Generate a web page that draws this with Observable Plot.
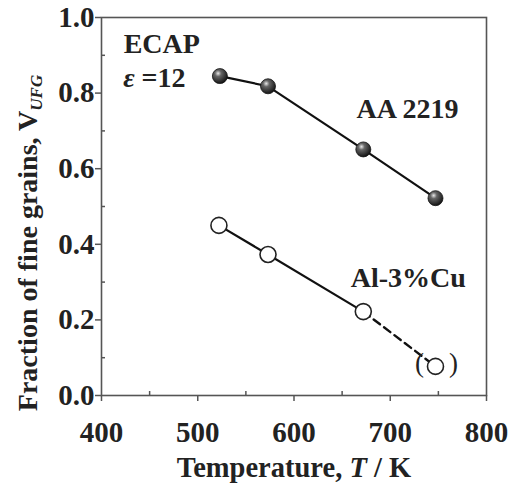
<!DOCTYPE html>
<html>
<head>
<meta charset="utf-8">
<script src="https://cdn.jsdelivr.net/npm/d3@7"></script>
<script src="https://cdn.jsdelivr.net/npm/@observablehq/plot@0.6"></script>
<style>
  html, body { margin: 0; padding: 0; background: #fff; }
</style>
</head>
<body>
<div id="chart"></div>
<script>
// Data
const tempAA = [523, 573, 672, 747];
const vAA = [0.845, 0.818, 0.651, 0.522];
const tempCu = [522, 573, 672, 747];
const vCu = [0.450, 0.373, 0.222, 0.077];

const xMajor = [400, 500, 600, 700, 800];
const xMinor = [450, 550, 650, 750];
const yMajor = [0, 0.2, 0.4, 0.6, 0.8, 1.0];
const yMinor = [0.1, 0.3, 0.5, 0.7, 0.9];

const labelT = [423, 665, 659];
const labelV = [0.905, 0.733, 0.286];
const labelText = ["ECAP", "AA 2219", "Al-3%Cu"];
const epsT = 423, epsV = 0.815;

const W = 517, H = 489;
const mL = 101, mR = 31, mT = 17, mB = 94;
const innerW = W - mL - mR, innerH = H - mT - mB;
const FONT = "Liberation Serif, Times New Roman, serif";

const AA = tempAA.map((t, i) => ({t, v: vAA[i]}));
const Cu = tempCu.map((t, i) => ({t, v: vCu[i]}));
const labels = labelT.map((t, i) => ({t, v: labelV[i], text: labelText[i]}));
const CuSolid = Cu.slice(0, 3);
const CuDash = Cu.slice(2);
const CuLast = Cu.slice(3);

const plot = Plot.plot({
  width: W, height: H,
  marginLeft: mL, marginRight: mR, marginTop: mT, marginBottom: mB,
  style: {fontFamily: FONT, fontWeight: "bold", background: "#fff", overflow: "visible"},
  x: {domain: [400, 800]},
  y: {domain: [0, 1]},
  marks: [
    Plot.frame({stroke: "#555", strokeWidth: 1.6}),
    Plot.tickX(xMajor, {x: d => d, insetTop: innerH - 6, dy: 6, stroke: "#555", strokeWidth: 1.5}),
    Plot.tickX(xMinor, {x: d => d, insetTop: innerH - 4, stroke: "#555", strokeWidth: 1.5}),
    Plot.tickY(yMajor, {y: d => d, insetRight: innerW - 6, dx: -6, stroke: "#555", strokeWidth: 1.5}),
    Plot.tickY(yMinor, {y: d => d, insetRight: innerW - 4, stroke: "#555", strokeWidth: 1.5}),
    Plot.axisX(xMajor, {tickSize: 0, tickPadding: 26, fontSize: 29, fontWeight: "bold", fontFamily: FONT, label: null, fill: "#222"}),
    Plot.axisY(yMajor, {tickSize: 0, tickPadding: 7, fontSize: 29, fontWeight: "bold", fontFamily: FONT, label: null, tickFormat: d3.format(".1f"), fill: "#222"}),
    // lines
    Plot.line(AA, {x: "t", y: "v", stroke: "#111", strokeWidth: 2.2}),
    Plot.line(CuSolid, {x: "t", y: "v", stroke: "#111", strokeWidth: 2.2}),
    Plot.line(CuDash, {x: "t", y: "v", stroke: "#111", strokeWidth: 2.4, strokeDasharray: "8,5"}),
    // markers
    Plot.dot(AA, {x: "t", y: "v", r: 7.5, fill: "url(#sphere)", stroke: "#111", strokeWidth: 0.8}),
    Plot.dot(Cu, {x: "t", y: "v", r: 8, fill: "#fff", stroke: "#222", strokeWidth: 1.6}),
    Plot.text(CuLast, {x: "t", y: "v", text: () => "(", dx: -16, dy: -3, fontSize: 27, fontWeight: "normal", fontFamily: FONT, fill: "#222"}),
    Plot.text(CuLast, {x: "t", y: "v", text: () => ")", dx: 18, dy: -3, fontSize: 27, fontWeight: "normal", fontFamily: FONT, fill: "#222"}),
    // annotations
    Plot.text(labels, {x: "t", y: "v", text: "text", textAnchor: "start", lineAnchor: "bottom", fontSize: 28, fontWeight: "bold", fontFamily: FONT, fill: "#222"})
  ]
});

const svg = d3.select(plot);
const defs = svg.insert("defs", ":first-child");
const g = defs.append("radialGradient").attr("id", "sphere").attr("cx", "38%").attr("cy", "32%").attr("r", "70%");
g.append("stop").attr("offset", "0%").attr("stop-color", "#e8e8e8");
g.append("stop").attr("offset", "30%").attr("stop-color", "#666");
g.append("stop").attr("offset", "100%").attr("stop-color", "#111");

// epsilon label (data coordinates via scales)
const xs = plot.scale("x"), ys = plot.scale("y");
const eps = svg.append("text")
  .attr("x", xs.apply(epsT)).attr("y", ys.apply(epsV))
  .attr("text-anchor", "start").attr("font-family", FONT).attr("font-weight", "bold")
  .attr("font-size", 28).attr("fill", "#222");
eps.append("tspan").attr("font-style", "italic").text("ε");
eps.append("tspan").text(" =12");

// axis titles
const xt = svg.append("text")
  .attr("x", 294).attr("y", 477).attr("font-family", FONT).attr("font-weight", "bold")
  .attr("text-anchor", "middle").attr("font-size", 28.5).attr("fill", "#222");
xt.append("tspan").text("Temperature, ");
xt.append("tspan").attr("font-style", "italic").text("T");
xt.append("tspan").text(" / K");

const yt = svg.append("text")
  .attr("transform", `translate(37,243) rotate(-90)`).attr("font-family", FONT).attr("font-weight", "bold")
  .attr("text-anchor", "middle").attr("font-size", 28).attr("fill", "#222");
yt.append("tspan").text("Fraction of fine grains, V");
yt.append("tspan").attr("font-style", "italic").attr("font-size", 17).attr("dy", 5).text("UFG");

document.getElementById("chart").appendChild(plot);
</script>
</body>
</html>
